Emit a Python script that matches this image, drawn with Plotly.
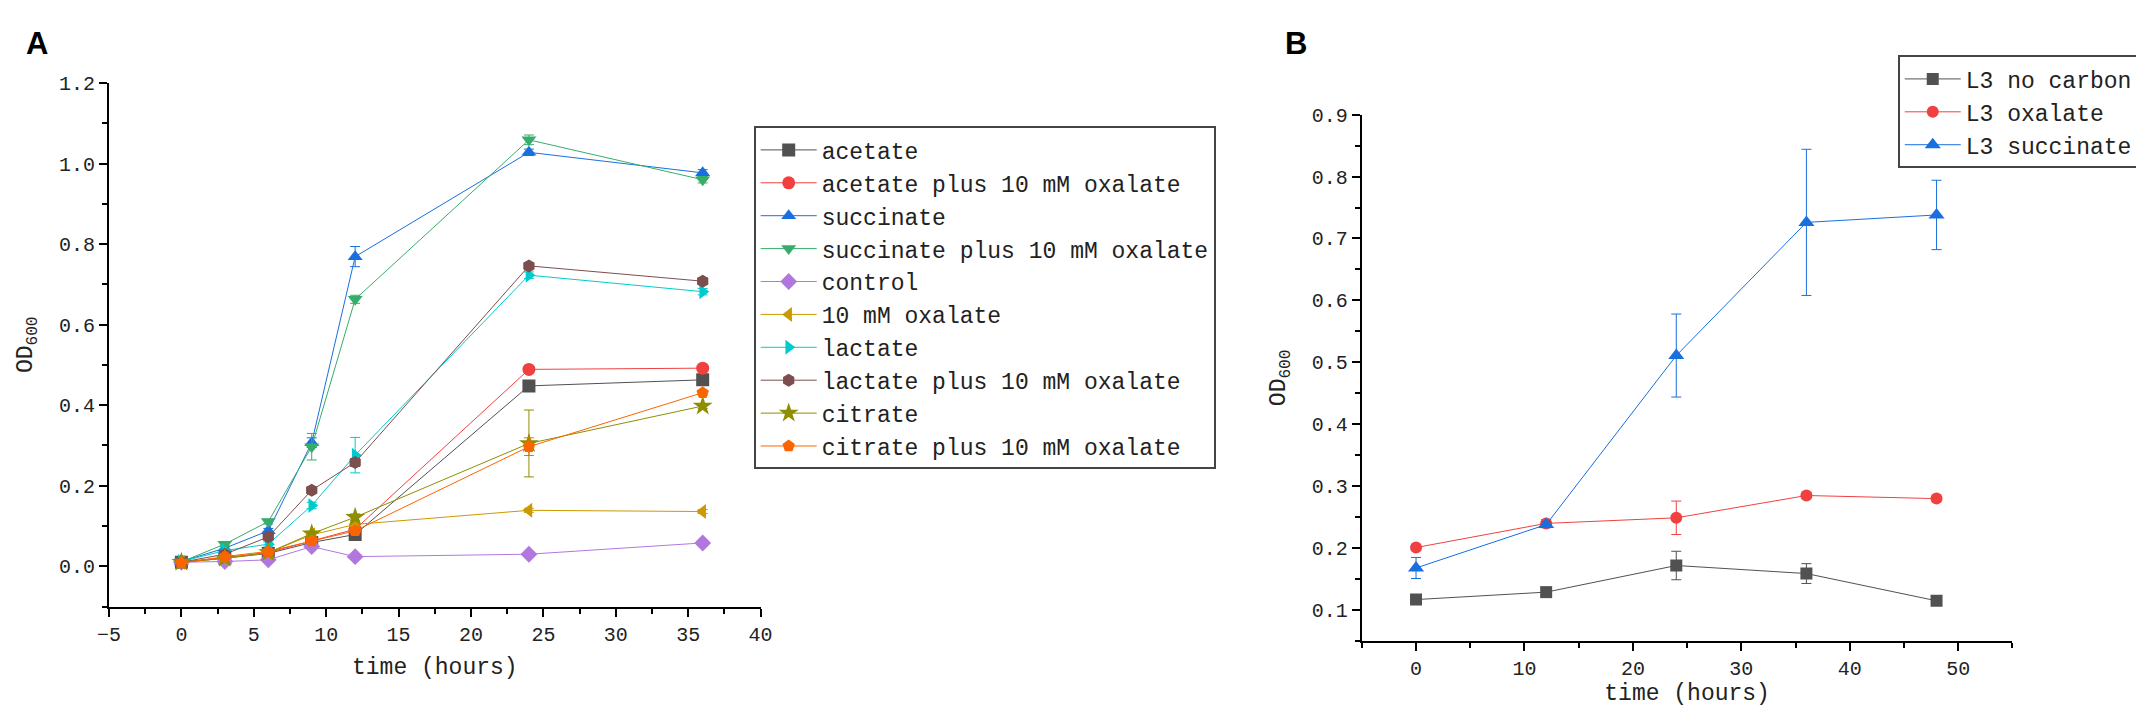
import plotly.graph_objects as go

# panel A: growth on single carbon sources, with / without oxalate
time_a = [0, 3, 6, 9, 12, 24, 36]
names_a = ['acetate', 'acetate plus 10 mM oxalate', 'succinate',
           'succinate plus 10 mM oxalate', 'control', '10 mM oxalate',
           'lactate', 'lactate plus 10 mM oxalate', 'citrate',
           'citrate plus 10 mM oxalate']
od_a = [
    [0.010, 0.020, 0.032, 0.059, 0.079, 0.448, 0.463],
    [0.010, 0.022, 0.034, 0.063, 0.092, 0.489, 0.492],
    [0.012, 0.045, 0.088, 0.307, 0.769, 1.028, 0.977],
    [0.011, 0.055, 0.111, 0.297, 0.663, 1.059, 0.960],
    [0.010, 0.012, 0.016, 0.049, 0.024, 0.030, 0.058],
    [0.010, 0.020, 0.034, 0.078, 0.104, 0.139, 0.136],
    [0.012, 0.039, 0.055, 0.151, 0.276, 0.723, 0.682],
    [0.010, 0.030, 0.073, 0.189, 0.258, 0.746, 0.708],
    [0.010, 0.020, 0.034, 0.081, 0.122, 0.305, 0.398],
    [0.008, 0.024, 0.037, 0.063, 0.088, 0.297, 0.431],
]
err_a = [
    [0.004, 0.004, 0.004, 0.004, 0.004, 0.006, 0.005],
    [0.004, 0.004, 0.004, 0.004, 0.004, 0.005, 0.005],
    [0.005, 0.005, 0.006, 0.012, 0.025, 0.008, 0.008],
    [0.005, 0.005, 0.006, 0.033, 0.010, 0.012, 0.008],
    [0.003, 0.003, 0.003, 0.004, 0.004, 0.004, 0.004],
    [0.003, 0.004, 0.004, 0.005, 0.005, 0.005, 0.005],
    [0.004, 0.004, 0.005, 0.008, 0.044, 0.008, 0.008],
    [0.004, 0.004, 0.006, 0.008, 0.010, 0.008, 0.008],
    [0.004, 0.004, 0.004, 0.006, 0.008, 0.083, 0.006],
    [0.004, 0.004, 0.004, 0.005, 0.008, 0.022, 0.006],
]
colors_a = ['#515151', '#F14040', '#1A6FDF', '#37AD6B', '#B177DE',
            '#CC9900', '#00CBCC', '#7D4E4E', '#8E8E00', '#FB6501']
symbols_a = ['square', 'circle', 'triangle-up', 'triangle-down', 'diamond',
             'triangle-left', 'triangle-right', 'hexagon', 'star', 'pentagon']

# panel B: strain L3
time_b = [0, 12, 24, 36, 48]
names_b = ['L3 no carbon', 'L3 oxalate', 'L3 succinate']
od_b = [
    [0.117, 0.129, 0.172, 0.159, 0.115],
    [0.201, 0.240, 0.249, 0.285, 0.280],
    [0.168, 0.238, 0.511, 0.726, 0.738],
]
err_b = [
    [0.004, 0.004, 0.023, 0.016, 0.004],
    [0.004, 0.006, 0.027, 0.005, 0.004],
    [0.017, 0.005, 0.067, 0.118, 0.056],
]
colors_b = ['#515151', '#F14040', '#1A6FDF']
symbols_b = ['square', 'circle', 'triangle-up']

W, H = 2144, 707
MONO = 'Liberation Mono'

fig = go.Figure()

for i, name in enumerate(names_a):
    fig.add_trace(go.Scatter(
        x=time_a, y=od_a[i], name=name, mode='lines+markers',
        line=dict(color=colors_a[i], width=1),
        marker=dict(symbol=symbols_a[i], color=colors_a[i],
                    size=15 if symbols_a[i] == 'star' else 13),
        error_y=dict(type='data', array=err_a[i], color=colors_a[i],
                     thickness=1, width=5),
        xaxis='x', yaxis='y', legend='legend'))

for i, name in enumerate(names_b):
    fig.add_trace(go.Scatter(
        x=time_b, y=od_b[i], name=name, mode='lines+markers',
        line=dict(color=colors_b[i], width=1),
        marker=dict(symbol=symbols_b[i], color=colors_b[i],
                    size=14 if symbols_b[i] == 'triangle-up' else 12),
        error_y=dict(type='data', array=err_b[i], color=colors_b[i],
                     thickness=1, width=5),
        xaxis='x2', yaxis='y2', legend='legend2'))

axis_common = dict(showline=True, linecolor='black', linewidth=2,
                   ticks='outside', ticklen=8, tickwidth=2, tickcolor='black',
                   showgrid=False, zeroline=False, mirror=False,
                   tickfont=dict(family=MONO, size=20, color='#222'),
                   title_font=dict(family=MONO, size=23, color='#222'))

fig.update_layout(
    width=W, height=H, plot_bgcolor='white', paper_bgcolor='white',
    margin=dict(l=0, r=0, t=0, b=0), showlegend=True,
    xaxis=dict(axis_common, domain=[90 / W, 749 / W], range=[-5, 40],
               dtick=5, tick0=0, anchor='y',
               minor=dict(ticks='outside', ticklen=5, tickwidth=2,
                          dtick=2.5, tickcolor='black'),
               title=dict(text='time (hours)', standoff=12)),
    yaxis=dict(axis_common, domain=[1 - 597 / H, 1 - 66 / H],
               range=[-0.1, 1.2], dtick=0.2, tick0=0, tickformat='.1f',
               anchor='x',
               minor=dict(ticks='outside', ticklen=5, tickwidth=2,
                          dtick=0.1, tickcolor='black'),
               title=dict(text='OD<sub>600</sub>', standoff=20)),
    xaxis2=dict(axis_common, domain=[1357 / W, 2015 / W], range=[-5, 55],
                dtick=10, tick0=0, anchor='y2',
                minor=dict(ticks='outside', ticklen=5, tickwidth=2,
                           dtick=5, tickcolor='black'),
                title=dict(text='time (hours)', standoff=2)),
    yaxis2=dict(axis_common, domain=[1 - 632 / H, 1 - 98 / H],
                range=[0.05, 0.9], dtick=0.1, tick0=0, tickformat='.1f',
                anchor='x2',
                minor=dict(ticks='outside', ticklen=5, tickwidth=2,
                           dtick=0.05, tickcolor='black'),
                title=dict(text='OD<sub>600</sub>', standoff=20)),
    legend=dict(x=742 / W, y=1 - 110 / H, xanchor='left', yanchor='top',
                bordercolor='#444', borderwidth=2, bgcolor='white',
                font=dict(family=MONO, size=23, color='#222'),
                itemwidth=56, tracegroupgap=0),
    legend2=dict(x=1899 / W, y=1 - 38 / H, xanchor='left', yanchor='top',
                 bordercolor='#444', borderwidth=2, bgcolor='white',
                 font=dict(family=MONO, size=23, color='#222'),
                 itemwidth=56, tracegroupgap=0),
    annotations=[
        dict(text='<b>A</b>', x=4 / W, y=1 - 6 / H, xref='paper', yref='paper',
             xanchor='left', yanchor='top', showarrow=False,
             font=dict(family='Liberation Sans', size=31, color='black')),
        dict(text='<b>B</b>', x=1277 / W, y=1 - 6 / H, xref='paper',
             yref='paper', xanchor='left', yanchor='top', showarrow=False,
             font=dict(family='Liberation Sans', size=31, color='black')),
    ],
)

fig.write_html("out.html")
